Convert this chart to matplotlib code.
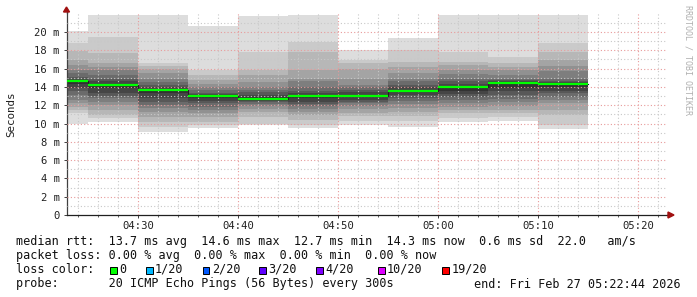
import matplotlib
matplotlib.use("Agg")
import matplotlib.pyplot as plt
from matplotlib.patches import Rectangle

# ---------------- data ----------------
# bin end times, minutes after 04:00 (5 minute steps)
bin_end = [25, 30, 35, 40, 45, 50, 55, 60, 65, 70, 75]
step = 5
# sorted 20 ping rtts per bin (ms): lower half and upper half
pings_low = [
    [10.0, 11.1, 11.5, 11.8, 12.2, 12.6, 13.1, 13.5, 13.85, 14.3],
    [10.2, 10.55, 10.9, 11.5, 12.0, 12.4, 12.75, 13.0, 13.3, 13.9],
    [9.1, 9.65, 10.2, 10.75, 11.3, 11.65, 12.0, 12.4, 12.75, 13.3],
    [9.47, 9.84, 10.2, 10.75, 11.1, 11.5, 11.85, 12.2, 12.5, 12.75],
    [9.84, 10.0, 10.75, 11.3, 11.57, 11.9, 12.1, 12.3, 12.45, 12.6],
    [9.47, 9.84, 10.38, 10.9, 11.3, 11.6, 11.9, 12.1, 12.4, 12.8],
    [9.8, 10.3, 10.8, 11.2, 11.6, 11.9, 12.2, 12.4, 12.6, 12.85],
    [9.65, 10.3, 10.8, 11.3, 11.7, 12.1, 12.5, 12.8, 13.1, 13.45],
    [10.2, 10.55, 11.1, 11.5, 11.85, 12.2, 12.57, 12.9, 13.2, 13.5],
    [10.3, 10.7, 11.1, 11.5, 11.9, 12.3, 12.7, 13.1, 13.5, 13.9],
    [9.4, 9.84, 10.9, 11.5, 12.2, 12.6, 12.9, 13.3, 13.6, 14.0],
]
pings_high = [
    [14.6, 14.9, 15.1, 15.5, 15.85, 16.4, 16.9, 17.9, 18.8, 20.1],
    [14.3, 14.6, 14.9, 15.3, 15.85, 16.2, 16.6, 17.7, 19.5, 21.85],
    [13.8, 13.96, 14.2, 14.57, 14.9, 15.5, 16.0, 16.3, 16.58, 21.86],
    [13.1, 13.2, 13.37, 13.66, 13.96, 14.3, 14.75, 15.3, 15.9, 20.65],
    [12.9, 13.1, 13.4, 13.66, 14.0, 14.57, 15.3, 15.85, 17.85, 21.75],
    [13.1, 13.3, 13.55, 14.0, 14.6, 14.9, 15.85, 17.85, 18.96, 21.9],
    [13.1, 13.4, 13.66, 13.95, 14.2, 14.9, 16.0, 16.6, 16.9, 18.0],
    [13.7, 13.95, 14.2, 14.6, 14.9, 15.5, 16.2, 16.75, 18.0, 19.3],
    [14.05, 14.3, 14.6, 14.9, 15.4, 15.85, 16.4, 16.75, 17.85, 21.9],
    [14.5, 14.6, 14.75, 14.9, 15.3, 15.85, 16.2, 16.6, 17.3, 21.9],
    [14.35, 14.5, 14.7, 14.9, 15.7, 16.3, 16.9, 17.85, 18.8, 21.86],
]
median = [14.6, 14.2, 13.7, 13.0, 12.7, 13.0, 13.0, 13.6, 13.95, 14.45, 14.3]

xtick_pos = [30, 40, 50, 60, 70, 80]
xtick_labels = ["04:30", "04:40", "04:50", "05:00", "05:10", "05:20"]
ytick_pos = [0, 2, 4, 6, 8, 10, 12, 14, 16, 18, 20]
ytick_labels = ["0"] + [f"{v} m" for v in ytick_pos[1:]]

loss_labels = ["0", "1/20", "2/20", "3/20", "4/20", "10/20", "19/20"]
loss_colors = ["#00ff00", "#00b8ff", "#0059ff", "#5e00ff", "#7e00ff", "#dd00ff", "#ff0000"]

line1 = "median rtt:  13.7 ms avg  14.6 ms max  12.7 ms min  14.3 ms now  0.6 ms sd  22.0   am/s"
line2 = "packet loss: 0.00 % avg  0.00 % max  0.00 % min  0.00 % now"
line4 = "probe:       20 ICMP Echo Pings (56 Bytes) every 300s"
end_text = "end: Fri Feb 27 05:22:44 2026"

# ---------------- figure ----------------
W, H = 697, 297
fig = plt.figure(figsize=(W / 100, H / 100), dpi=100)
fig.patch.set_facecolor("white")
ax = fig.add_axes([67 / W, 82 / H, 600 / W, 202 / H])
ax.set_facecolor("white")
MONO = "DejaVu Sans Mono"

# smoke bands
half = 10
starts = [e - step for e in bin_end]
for k in range(half):
    g = int(190 / half * (half - (k + 1))) + 50
    col = "#%02x%02x%02x" % (g, g, g)
    bottoms = [pl[k] for pl in pings_low]
    tops = [ph[half - 1 - k] for ph in pings_high]
    heights = [t - b for t, b in zip(tops, bottoms)]
    ax.bar(starts, heights, bottom=bottoms, width=step, align="edge",
           color=col, linewidth=0, zorder=1 + k * 0.01)

# grid
minor_x = [m for m in range(24, 83, 2) if m % 10 != 0]
major_x = xtick_pos
for xv in minor_x:
    ax.axvline(xv, color="#c8c8c8", lw=0.8, ls=(0, (1, 2)), zorder=3)
for yv in range(1, 23):
    if yv % 2:
        ax.axhline(yv, color="#c8c8c8", lw=0.8, ls=(0, (1, 2)), zorder=3)
for xv in major_x:
    ax.axvline(xv, color="#e89a9a", lw=0.8, ls=(0, (1, 2)), zorder=3.1)
for yv in ytick_pos[1:]:
    ax.axhline(yv, color="#e89a9a", lw=0.8, ls=(0, (1, 2)), zorder=3.1)

# median line: dark step + green segments
ax.step(bin_end, median, where="pre", color="#202020", lw=0.8, zorder=4)
ax.hlines(median, starts, bin_end, colors=loss_colors[0], lw=1.6, zorder=5)

ax.set_xlim(22.87, 82.87)
ax.set_ylim(0, 22.08)

for s in ["top", "right"]:
    ax.spines[s].set_visible(False)
ax.spines["left"].set_color("#404040")
ax.spines["bottom"].set_color("#202020")
ax.spines["left"].set_linewidth(0.9)
ax.spines["bottom"].set_linewidth(0.9)

ax.set_xticks(xtick_pos)
ax.set_xticklabels(xtick_labels, fontfamily=MONO, fontsize=7.6, color="#202020")
ax.set_yticks(ytick_pos)
ax.set_yticklabels(ytick_labels, fontfamily=MONO, fontsize=7.6, color="#202020")
ax.set_xticks(minor_x, minor=True)
ax.tick_params(axis="both", which="major", length=2.5, width=0.7, color="#404040")
ax.tick_params(axis="x", which="minor", length=1.5, width=0.6, color="#404040")
ax.tick_params(axis="x", which="major", pad=2)
ax.tick_params(axis="y", which="major", pad=2.6)

# arrows
fig.patches.append(plt.Polygon([[63.5 / W, 1 - 12 / H], [69.5 / W, 1 - 12 / H], [66.5 / W, 1 - 7 / H]],
                               closed=True, color="#a01010", transform=fig.transFigure, figure=fig))
ax.plot([0, 0], [1, 1.012], transform=ax.transAxes, color="#404040", lw=0.9, clip_on=False)
fig.patches.append(plt.Polygon([[668 / W, 1 - 212 / H], [668 / W, 1 - 218 / H], [674 / W, 1 - 215 / H]],
                               closed=True, color="#a01010", transform=fig.transFigure, figure=fig))
ax.plot([1, 1.003], [0, 0], transform=ax.transAxes, color="#202020", lw=0.9, clip_on=False)

# axis title and watermark
fig.text(11 / W, 1 - 114 / H, "Seconds", rotation=90, fontfamily=MONO, fontsize=7.8,
         ha="center", va="center", color="#202020")
fig.text(688 / W, 1 - 60 / H, "RRDTOOL / TOBI OETIKER", rotation=270, fontfamily=MONO,
         fontsize=6.0, ha="center", va="center", color="#b0b0b0")

# legend text
LF = 8.45
def ftext(x, y, s, **kw):
    fig.text(x / W, 1 - y / H, s, fontfamily=MONO, fontsize=LF, va="center", color="#101010", **kw)

ftext(15.5, 241.5, line1)
ftext(15.5, 255.5, line2)
ftext(15.5, 269.5, "loss color:")
ftext(15.5, 284, line4)
ftext(681, 284, end_text, ha="right")

box_x = [110, 146, 202.7, 259.3, 316, 378.3, 442.3]
text_x = [119, 155, 211.7, 268.3, 325, 386.7, 451.7]
for bx, tx, lab, c in zip(box_x, text_x, loss_labels, loss_colors):
    fig.patches.append(Rectangle((bx / W, 1 - 273.5 / H), 6.5 / W, 6.5 / H,
                                 facecolor=c, edgecolor="black", lw=0.7,
                                 transform=fig.transFigure, figure=fig))
    ftext(tx, 269.5, lab)

fig.savefig("out.png", dpi=100, facecolor="white")
